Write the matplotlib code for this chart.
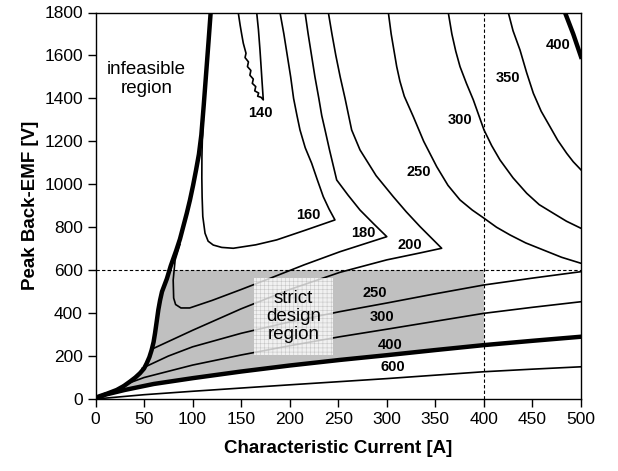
import matplotlib
matplotlib.use('Agg')
import matplotlib.pyplot as plt
import numpy as np

plt.rcParams['font.family'] = ['Liberation Sans', 'DejaVu Sans']
plt.rcParams['hatch.linewidth'] = 0.4

# ---- data ----
x_ticks = [0, 50, 100, 150, 200, 250, 300, 350, 400, 450, 500]
y_ticks = [0, 200, 400, 600, 800, 1000, 1200, 1400, 1600, 1800]

# infeasible-region boundary (thick)
bnd_A = [0, 2.9, 12, 21.8, 29, 35.5, 41, 45.8, 50, 52.7, 55.5, 57.8, 59.8, 61.3, 63, 64.7, 66.5, 68.5,
         71, 73.5, 75.5, 77.5, 80, 83, 87, 90.5, 94, 97.3, 100.5, 103.5, 106.5, 109, 111.5, 114, 116.5, 118.6]
bnd_V = [0, 11, 25, 42, 60, 81, 100, 120, 142, 166, 195, 228, 265, 306, 360, 415, 460, 500,
         530, 560, 590, 620, 652, 690, 745, 805, 865, 927, 995, 1065, 1140, 1230, 1370, 1520, 1670, 1800]

# contour 140 (wavy left side, then right side)
c140_A = [147, 149, 150.5, 152.2, 155, 154, 157.5, 156.5, 160, 159, 162.5, 161.5, 165, 164, 168, 167, 170.5, 172.8,
          171.5, 170.5, 169.4, 167.8, 166]
c140_V = [1800, 1740, 1700, 1657, 1610, 1590, 1570, 1548, 1530, 1508, 1490, 1470, 1455, 1435, 1425, 1410, 1405, 1393,
          1480, 1550, 1625, 1720, 1800]

# contour 160
c160_A = [111, 110, 109.6, 109.5, 109.8, 110.5, 112.8, 116, 121.3, 130, 141.9, 165, 186.6, 216, 246.6,
          240.5, 234.6, 228.5, 222.6, 216, 210.6, 207.5, 204, 201, 197.5, 194, 190]
c160_V = [1300, 1200, 1129, 1030, 942, 850, 772, 735, 717, 706, 702, 718, 741, 786, 834,
          885, 942, 1020, 1098, 1170, 1253, 1320, 1400, 1500, 1600, 1700, 1800]

# contour 180
c180_A = [87, 82, 80, 80.5, 82.5, 88, 97, 120, 150, 179.7, 215, 251.8, 300,
          286, 272.4, 260, 248.4, 241, 236.4, 233, 230, 226, 222.5, 219, 215.8]
c180_V = [720, 647, 554, 470, 440, 424, 424, 459, 510, 562, 625, 686, 756,
          818, 880, 950, 1020, 1160, 1253, 1320, 1400, 1500, 1600, 1700, 1800]

# contour 200
c200_A = [58, 100, 150, 200, 251.8, 300, 334, 356.5, 334.2, 320, 306.7, 289, 272.4, 263.8,
          257, 252, 247.5, 243.5, 239.8]
c200_V = [232, 320, 420, 510, 590, 648, 680, 702, 803, 872, 942, 1040, 1160, 1253,
          1400, 1500, 1600, 1700, 1800]

# upper contours 250..400
c250u_A = [301.6, 304.5, 307.5, 310.2, 313.5, 318, 327.3, 338, 351.4, 363, 375.4, 388, 400.1, 413, 426.9,
           443, 461.2, 480, 500]
c250u_V = [1800, 1700, 1620, 1548, 1480, 1410, 1315, 1200, 1082, 995, 927, 880, 842, 800, 764,
           727, 694, 660, 632]
c300u_A = [363.3, 367, 371, 375.4, 382, 389.1, 400.1, 408, 416.6, 430, 444.1, 457, 471.5, 485, 500]
c300u_V = [1800, 1700, 1620, 1548, 1470, 1393, 1253, 1180, 1113, 1030, 958, 905, 865, 828, 795]
c350_A = [425.1, 430, 437.2, 444, 450.9, 459, 468.1, 476, 485.3, 492, 500]
c350_V = [1800, 1715, 1625, 1520, 1424, 1340, 1268, 1205, 1144, 1105, 1067]
c400u_A = [483.5, 492, 500]
c400u_V = [1800, 1700, 1594]

# lower contours
c250l_A = [48, 75, 100, 150, 200, 251.8, 300, 350, 400, 450, 500]
c250l_V = [143, 200, 243, 306, 359, 407, 447, 490, 531, 563, 593]
c300l_A = [29, 50, 100, 150, 200, 251.8, 300, 350, 400, 450, 500]
c300l_V = [65, 100, 158, 205, 248, 290, 325, 362, 399, 427, 453]
c400l_A = [0, 10, 30, 60, 100, 150, 200, 251.8, 300, 350, 400, 450, 500]
c400l_V = [0, 20, 42, 70, 97, 128, 156, 182, 204, 228, 251, 271, 290]
c600_A = [0, 50, 100, 150, 200, 251.8, 300, 350, 400, 450, 500]
c600_V = [0, 20, 36, 51, 66, 81, 95, 111, 127, 139, 150]

# contour labels: text, A, V
lab_text = ['140', '160', '180', '200', '250', '300', '350', '400', '250', '300', '400', '600']
lab_A = [169.4, 219.2, 275.8, 323.9, 332.5, 375.4, 425.1, 476.6, 287.8, 294.7, 303.3, 306.7]
lab_V = [1331, 857, 772, 717, 1059, 1299, 1494, 1649, 492, 380, 251, 150]

# design limits
I_max = 400
E_max = 600

# ---- figure ----
fig = plt.figure(figsize=(6.18, 4.71), dpi=100)
ax = fig.add_axes([95.5 / 618, 72 / 471, 485.5 / 618, 386.5 / 471])

# shaded strict design region
bA = np.array(bnd_A); bV = np.array(bnd_V)
A_at_E = np.interp(E_max, bV, bA)
mask = bV < E_max
lA = np.array(c400l_A); lV = np.array(c400l_V)
V_at_I = np.interp(I_max, lA, lV)
m2 = lA < I_max
polyA = list(bA[mask]) + [A_at_E, I_max, I_max] + list(lA[m2][::-1])
polyV = list(bV[mask]) + [E_max, E_max, V_at_I] + list(lV[m2][::-1])
ax.fill(polyA, polyV, color='#c0c0c0', lw=0, zorder=1)

# dashed limit lines
ax.axhline(E_max, color='black', lw=0.8, ls=(0, (3, 2)), zorder=2)
ax.axvline(I_max, color='black', lw=0.8, ls=(0, (3, 2)), zorder=2)

thin = dict(color='black', lw=1.2, zorder=3, solid_joinstyle='round')
thick = dict(color='black', lw=3.2, zorder=3, solid_joinstyle='round')
for A, V in [(c140_A, c140_V), (c160_A, c160_V), (c180_A, c180_V), (c200_A, c200_V),
             (c250u_A, c250u_V), (c300u_A, c300u_V), (c350_A, c350_V),
             (c250l_A, c250l_V), (c300l_A, c300l_V), (c600_A, c600_V)]:
    ax.plot(A, V, **thin)
ax.plot(bnd_A, bnd_V, **thick)
ax.plot(c400u_A, c400u_V, **thick)
ax.plot(c400l_A, c400l_V, **thick)

for t, a, v in zip(lab_text, lab_A, lab_V):
    ax.text(a, v, t, fontsize=10.5, fontweight='bold', ha='center', va='center', zorder=5)

ax.text(52.7, 1490, 'infeasible\nregion', fontsize=13.5, ha='center', va='center',
        linespacing=1.1, zorder=5)
ax.text(204, 385, 'strict\ndesign\nregion', fontsize=13.5, ha='center', va='center',
        linespacing=1.1, zorder=4,
        bbox=dict(boxstyle='square,pad=0.62', facecolor='white', alpha=0.78,
                  edgecolor='#bbbbbb', hatch='++++', linewidth=0))

ax.set_xlim(0, 500)
ax.set_ylim(0, 1800)
ax.set_xticks(x_ticks)
ax.set_yticks(y_ticks)
ax.tick_params(direction='out', length=6, width=1, labelsize=12.5, pad=3)
for s in ax.spines.values():
    s.set_linewidth(1.0)
ax.set_xlabel('Characteristic Current [A]', fontsize=13.5, fontweight='bold', labelpad=10)
ax.set_ylabel('Peak Back-EMF [V]', fontsize=13.5, fontweight='bold', labelpad=4)

fig.savefig('out.png', dpi=100)
